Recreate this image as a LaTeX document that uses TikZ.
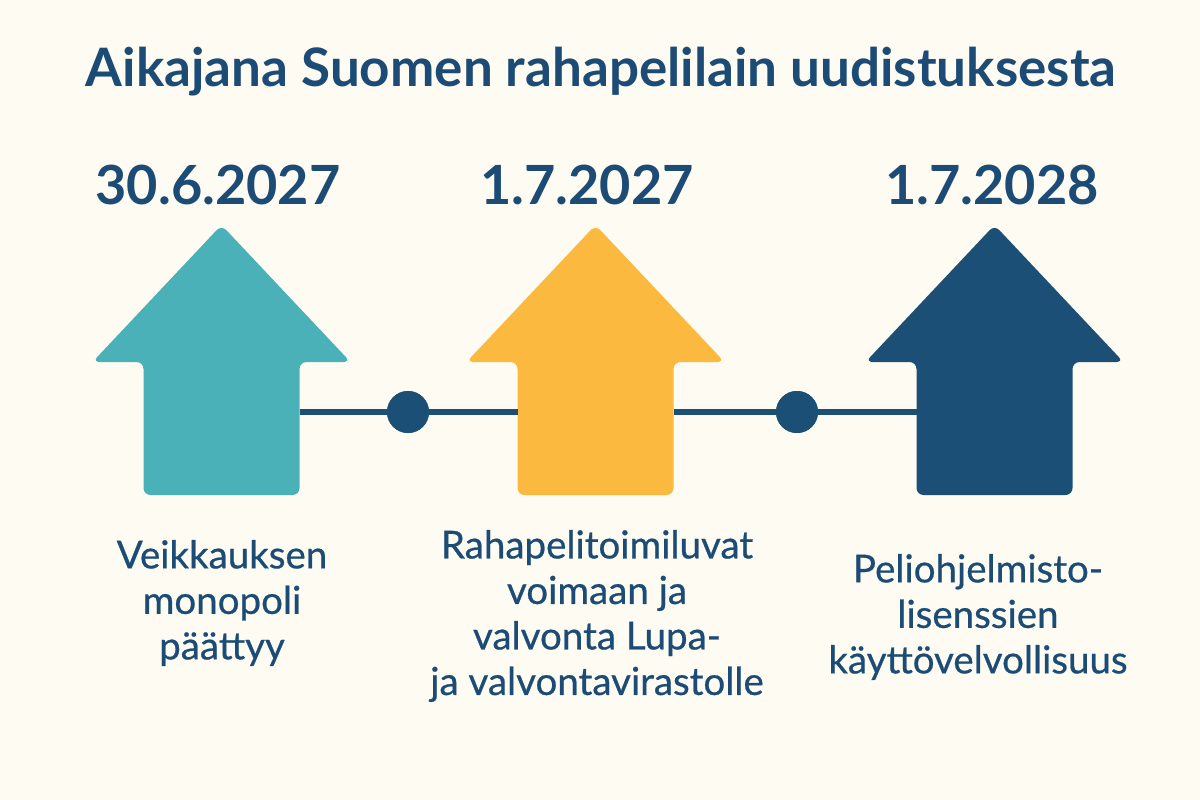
\documentclass[tikz,border=0pt]{standalone}
\usepackage{fontspec}
\setmainfont{Lato}
\definecolor{bg}{HTML}{FDFBF2}
\definecolor{ink}{HTML}{1C4C76}
\definecolor{teal}{HTML}{4BB1B8}
\definecolor{gold}{HTML}{FBB940}
\definecolor{navy}{HTML}{1B4F75}
\tikzset{
  titletext/.style={text=ink, font={\fontsize{53}{60}\selectfont\bfseries}},
  datetext/.style={text=ink, font={\fontsize{54}{64}\selectfont\bfseries}},
  labeltext/.style={text=ink, align=center, font={\fontsize{38.5}{45.5}\selectfont\addfontfeature{FakeBold=0.6}}},
  link/.style={draw=navy, line width=5.5pt},
  dot/.style={circle, fill=navy, minimum size=42pt, inner sep=0pt},
  arrowshape/.style={rounded corners=7pt}
}
\newcommand\housearrow[3]{% name, center x, colour
  \fill[#3, arrowshape] (#2,225) -- (#2+129,362) -- (#2+78,362) -- (#2+78,495)
     -- (#2-78,495) -- (#2-78,362) -- (#2-129,362) -- cycle;
  \coordinate (#1L) at (#2-78,412);
  \coordinate (#1R) at (#2+78,412);
}
\begin{document}
\begin{tikzpicture}[x=1pt,y=-1pt]
\fill[bg] (0,0) rectangle (1200,800);
\useasboundingbox (0,0) rectangle (1200,800);

\node[titletext] (title) at (601,72) {Aikajana Suomen rahapelilain uudistuksesta};

\housearrow{a}{221.5}{teal}
\housearrow{b}{595.5}{gold}
\housearrow{c}{994.5}{navy}

\node[dot] (d1) at (408,412) {};
\node[dot] (d2) at (797,412) {};
\draw[link] (aR) -- (d1) -- (bL);
\draw[link] (bR) -- (d2) -- (cL);
\node[dot] at (d1) {};
\node[dot] at (d2) {};

\node[datetext] (t1) at (218,185) {30.6.2027};
\node[datetext] (t2) at (587,185) {1.7.2027};
\node[datetext] (t3) at (992,185) {1.7.2028};

\node[labeltext] (l1) at (222,603) {Veikkauksen\\monopoli\\päättyy};
\node[labeltext] (l2) at (597,616) {Rahapelitoimiluvat\\voimaan ja\\valvonta Lupa-\\ja valvontavirastolle};
\node[labeltext] (l3) at (978,617) {Peliohjelmisto-\\lisenssien\\käyttövelvollisuus};
\end{tikzpicture}
\end{document}
